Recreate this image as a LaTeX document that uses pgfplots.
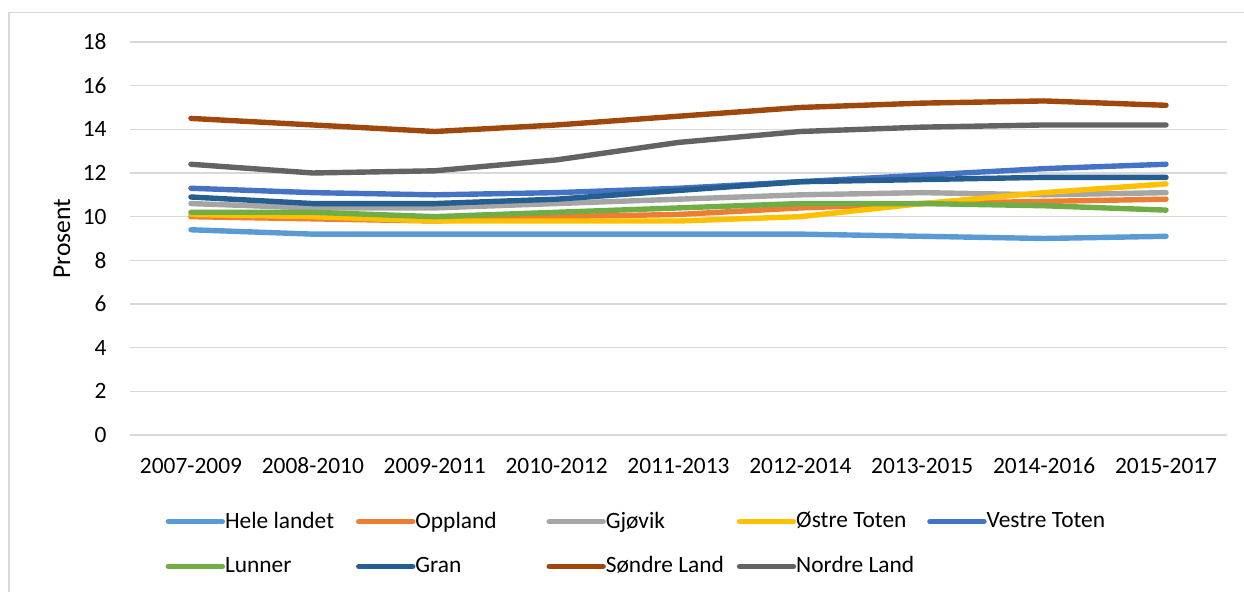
\documentclass[border=0pt]{standalone}
\usepackage{pgfplots}
\pgfplotsset{compat=1.18}
\usepackage{fontspec}
\setmainfont{Carlito}
\definecolor{cHele}{HTML}{5B9BD5}
\definecolor{cOpp}{HTML}{ED7D31}
\definecolor{cGjo}{HTML}{A5A5A5}
\definecolor{cOst}{HTML}{FFC000}
\definecolor{cVes}{HTML}{4472C4}
\definecolor{cLun}{HTML}{70AD47}
\definecolor{cGra}{HTML}{255E91}
\definecolor{cSon}{HTML}{9E480E}
\definecolor{cNor}{HTML}{636363}
\definecolor{gridc}{HTML}{D9D9D9}
\newcommand{\legtxt}[1]{\makebox[65.5pt][l]{#1}}
\begin{document}
\fontsize{11.7}{14}\selectfont
\begin{tikzpicture}
\path[use as bounding box] (-65pt,-78.5pt) rectangle (557pt,217.5pt);
\draw[gridc, line width=0.7pt] (-60.5pt,-80pt) -- (-60.5pt,211.25pt) -- (560pt,211.25pt);
\begin{axis}[
  at={(0pt,0pt)}, anchor=south west,
  scale only axis, width=548.5pt, height=196.5pt,
  xmin=-0.5, xmax=8.5, ymin=0, ymax=18,
  xtick={0,...,8},
  xticklabels={2007-2009,2008-2010,2009-2011,2010-2012,2011-2013,2012-2014,2013-2015,2014-2016,2015-2017},
  ytick={0,2,...,18},
  ymajorgrids, grid style={gridc, line width=0.75pt},
  axis line style={draw=none},
  major tick length=0pt,
  /pgf/number format/assume math mode=true,
  tick label style={font=\fontsize{11.7}{14}\selectfont, text=black},
  xticklabel style={anchor=base, yshift=-19.25pt},
  yticklabel style={anchor=east, inner sep=0pt, xshift=-11.5pt},
  ylabel={Prosent},
  every axis y label/.style={at={(axis description cs:-0.062,0.5)}, rotate=90, anchor=center, font=\fontsize{12.8}{15}\selectfont},
  clip=false,
  legend columns=5,
  legend style={draw=none, fill=none, at={(axis description cs:0.0325,-0.2775)}, anchor=west,
    inner sep=0pt, outer sep=0pt, font=\fontsize{11.7}{14}\selectfont,
    nodes={inner sep=0pt}, /tikz/column sep=0pt, row sep=12.5pt},
  legend image code/.code={\draw[#1, line width=2.7pt, line cap=round] (0pt,0pt) -- (27pt,0pt);},
  every axis plot/.append style={line width=2.7pt, line cap=round, line join=round, mark=none},
]
\addplot[cHele] coordinates {(0,9.4)(1,9.2)(2,9.2)(3,9.2)(4,9.2)(5,9.2)(6,9.1)(7,9.0)(8,9.1)};
\addlegendentry{\legtxt{Hele landet}}
\addplot[cOpp] coordinates {(0,10.0)(1,9.9)(2,9.8)(3,10.0)(4,10.1)(5,10.4)(6,10.6)(7,10.7)(8,10.8)};
\addlegendentry{\legtxt{Oppland}}
\addplot[cGjo] coordinates {(0,10.6)(1,10.4)(2,10.4)(3,10.6)(4,10.8)(5,11.0)(6,11.1)(7,11.0)(8,11.1)};
\addlegendentry{\legtxt{Gjøvik}}
\addplot[cOst] coordinates {(0,10.1)(1,10.0)(2,9.8)(3,9.8)(4,9.8)(5,10.0)(6,10.6)(7,11.1)(8,11.5)};
\addlegendentry{\legtxt{Østre Toten}}
\addplot[cVes] coordinates {(0,11.3)(1,11.1)(2,11.0)(3,11.1)(4,11.3)(5,11.6)(6,11.9)(7,12.2)(8,12.4)};
\addlegendentry{\legtxt{Vestre Toten}}
\addplot[cLun] coordinates {(0,10.2)(1,10.2)(2,10.0)(3,10.2)(4,10.4)(5,10.6)(6,10.6)(7,10.5)(8,10.3)};
\addlegendentry{\legtxt{Lunner}}
\addplot[cGra] coordinates {(0,10.9)(1,10.6)(2,10.6)(3,10.8)(4,11.2)(5,11.6)(6,11.7)(7,11.8)(8,11.8)};
\addlegendentry{\legtxt{Gran}}
\addplot[cSon] coordinates {(0,14.5)(1,14.2)(2,13.9)(3,14.2)(4,14.6)(5,15.0)(6,15.2)(7,15.3)(8,15.1)};
\addlegendentry{\legtxt{Søndre Land}}
\addplot[cNor] coordinates {(0,12.4)(1,12.0)(2,12.1)(3,12.6)(4,13.4)(5,13.9)(6,14.1)(7,14.2)(8,14.2)};
\addlegendentry{\legtxt{Nordre Land}}
\end{axis}
\end{tikzpicture}
\end{document}
